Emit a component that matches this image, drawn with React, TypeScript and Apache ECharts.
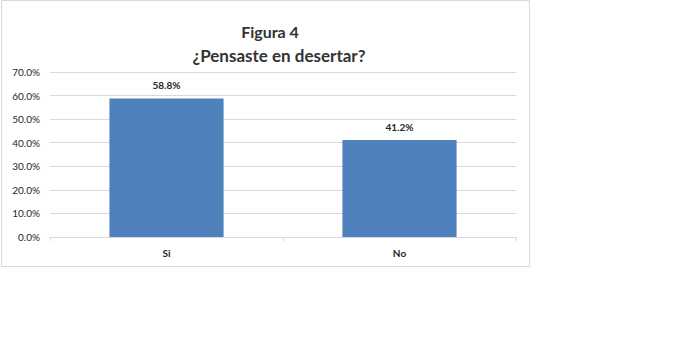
import React, { useEffect, useRef } from "react";
import * as echarts from "echarts";

const categories = ["Si", "No"];
const values = [58.8, 41.2];
const yTicks = [0, 10, 20, 30, 40, 50, 60, 70];
const titleLines = ["Figura 4", "¿Pensaste en desertar?"];

export default function App() {
  const ref = useRef<HTMLDivElement>(null);
  useEffect(() => {
    document.body.style.margin = "0";
    const chart = echarts.init(ref.current!, null, { renderer: "svg" });
    chart.setOption({
      animation: false,
      backgroundColor: "#ffffff",
      graphic: [
        {
          type: "rect",
          shape: { x: 1.5, y: 0.5, width: 528, height: 266 },
          style: { fill: "none", stroke: "#D9D9D9", lineWidth: 1 },
          silent: true,
        },
        {
          type: "text",
          x: 270,
          y: 31,
          style: {
            text: titleLines[0],
            font: "bold 16px Lato",
            fill: "#333333",
            align: "center",
            verticalAlign: "middle",
          },
        },
        {
          type: "text",
          x: 279,
          y: 55,
          style: {
            text: titleLines[1],
            font: "bold 17px Lato",
            fill: "#333333",
            align: "center",
            verticalAlign: "middle",
          },
        },
      ],
      grid: { left: 50, top: 72, width: 466, height: 165, containLabel: false },
      xAxis: {
        type: "category",
        data: categories,
        boundaryGap: true,
        axisLine: { lineStyle: { color: "#D9D9D9" } },
        axisTick: { show: true, length: 4, lineStyle: { color: "#D9D9D9" } },
        axisLabel: { color: "#262626", fontSize: 10, fontFamily: "Lato", fontWeight: "bold", margin: 11 },
      },
      yAxis: {
        type: "value",
        min: yTicks[0],
        max: yTicks[yTicks.length - 1],
        interval: 10,
        axisLine: { show: false },
        axisTick: { show: false },
        splitLine: { lineStyle: { color: "#D9D9D9" } },
        axisLabel: {
          color: "#262626",
          fontSize: 10,
          fontFamily: "Lato",
          margin: 10,
          formatter: (v: number) => v.toFixed(1) + "%",
        },
      },
      series: [
        {
          type: "bar",
          data: values,
          barWidth: "49%",
          itemStyle: { color: "#4F81BD" },
          label: {
            show: true,
            position: "top",
            distance: 8,
            color: "#262626",
            fontSize: 10,
            fontFamily: "Lato",
            fontWeight: "bold",
            formatter: (p: any) => p.value.toFixed(1) + "%",
          },
        },
      ],
    });
    return () => chart.dispose();
  }, []);
  return <div ref={ref} style={{ width: 673, height: 347 }} />;
}
